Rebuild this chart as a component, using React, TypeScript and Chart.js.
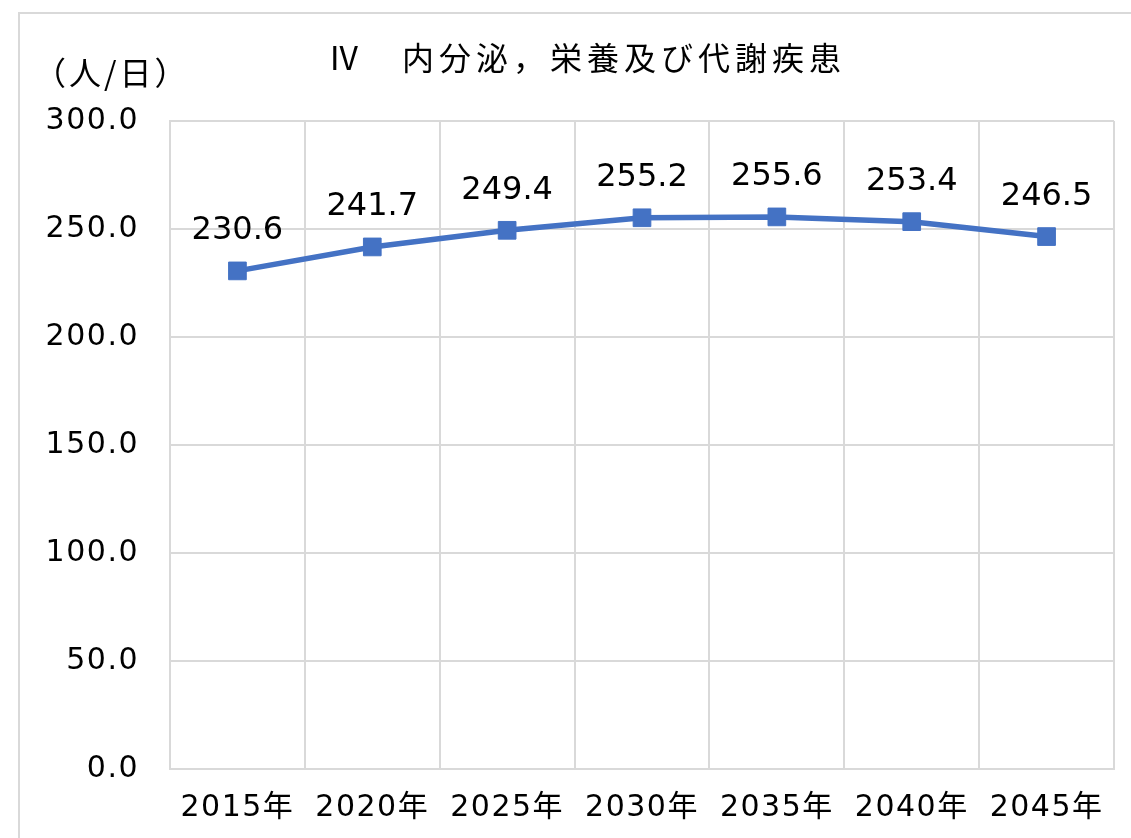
import React, { useEffect, useRef } from "react";
import { Chart, registerables } from "chart.js";

Chart.register(...registerables);

const categories = ["2015年", "2020年", "2025年", "2030年", "2035年", "2040年", "2045年"];
const values = [230.6, 241.7, 249.4, 255.2, 255.6, 253.4, 246.5];
const yMin = 0;
const yMax = 300;
const yStep = 50;
const titleText = "Ⅳ　内分泌，栄養及び代謝疾患";
const unitText = "（人/日）";

const FONT = "'DejaVu Sans', 'Noto Sans CJK JP', sans-serif";
const CJK = "'Noto Sans CJK JP', 'DejaVu Sans', sans-serif";
const GRID = "#d9d9d9";
const LINE = "#4472C4";

const spacingPlugin = {
  id: "spacing",
  beforeLayout(chart: any) {
    chart.ctx.letterSpacing = "1.5px";
  },
  beforeDraw(chart: any) {
    const ctx = chart.ctx;
    ctx.letterSpacing = "1.5px";
    ctx.save();
    ctx.fillStyle = "#fff";
    ctx.fillRect(0, 0, chart.width, chart.height);
    ctx.strokeStyle = GRID;
    ctx.lineWidth = 2;
    ctx.strokeRect(19, 13, chart.width + 50, chart.height + 50);
    ctx.restore();
  },
  afterDraw(chart: any) {
    const ctx = chart.ctx;
    ctx.save();
    ctx.fillStyle = "#000";
    ctx.textBaseline = "middle";
    ctx.textAlign = "left";
    ctx.letterSpacing = "5px";
    ctx.font = `32px ${CJK}`;
    ctx.fillText(titleText, 328, 58);
    ctx.letterSpacing = "3px";
    ctx.font = `32px ${CJK}`;
    ctx.fillText(unitText, 34, 73);
    ctx.restore();
  },
  afterDatasetsDraw(chart: any) {
    const ctx = chart.ctx;
    const meta = chart.getDatasetMeta(0);
    ctx.save();
    ctx.letterSpacing = "0px";
    ctx.fillStyle = "#000";
    ctx.font = `32px ${FONT}`;
    ctx.textAlign = "center";
    ctx.textBaseline = "middle";
    meta.data.forEach((p: any, i: number) => {
      ctx.fillText(values[i].toFixed(1), p.x, p.y - 40);
    });
    ctx.restore();
  },
};

export default function App() {
  const ref = useRef<HTMLCanvasElement | null>(null);
  useEffect(() => {
    if (!ref.current) return;
    const chart = new Chart(ref.current, {
      type: "line",
      data: {
        labels: categories,
        datasets: [
          {
            data: values,
            borderColor: LINE,
            backgroundColor: LINE,
            borderWidth: 5.5,
            pointStyle: "rect",
            pointRadius: 12.5,
            pointBorderWidth: 1,
            pointBackgroundColor: LINE,
            pointBorderColor: LINE,
            tension: 0,
          },
        ],
      },
      options: {
        responsive: false,
        animation: false,
        layout: { padding: { left: 18, top: 121, right: 17, bottom: 0 } },
        plugins: {
          legend: { display: false },
          title: { display: false },
          tooltip: { enabled: false },
        },
        scales: {
          x: {
            offset: true,
            grid: { color: GRID, lineWidth: 2, drawTicks: false, offset: true },
            border: { color: GRID, width: 2 },
            ticks: {
              color: "#000",
              font: { family: FONT, size: 30 },
              padding: 21,
              maxRotation: 0,
              autoSkip: false,
            },
            afterFit(scale: any) {
              scale.height = 838 - 769;
            },
          },
          y: {
            min: yMin,
            max: yMax,
            grid: { color: GRID, lineWidth: 2, drawTicks: false },
            border: { color: GRID, width: 2 },
            ticks: {
              stepSize: yStep,
              color: "#000",
              font: { family: FONT, size: 30 },
              padding: 31,
              callback: (v: any) => Number(v).toFixed(1),
            },
            afterFit(scale: any) {
              scale.width = 170 - 18;
            },
          },
        },
      },
      plugins: [spacingPlugin],
    });
    return () => chart.destroy();
  }, []);
  return (
    <div style={{ position: "fixed", left: 0, top: 0, width: 1131, height: 838 }}>
      <canvas ref={ref} width={1131} height={838} />
    </div>
  );
}
